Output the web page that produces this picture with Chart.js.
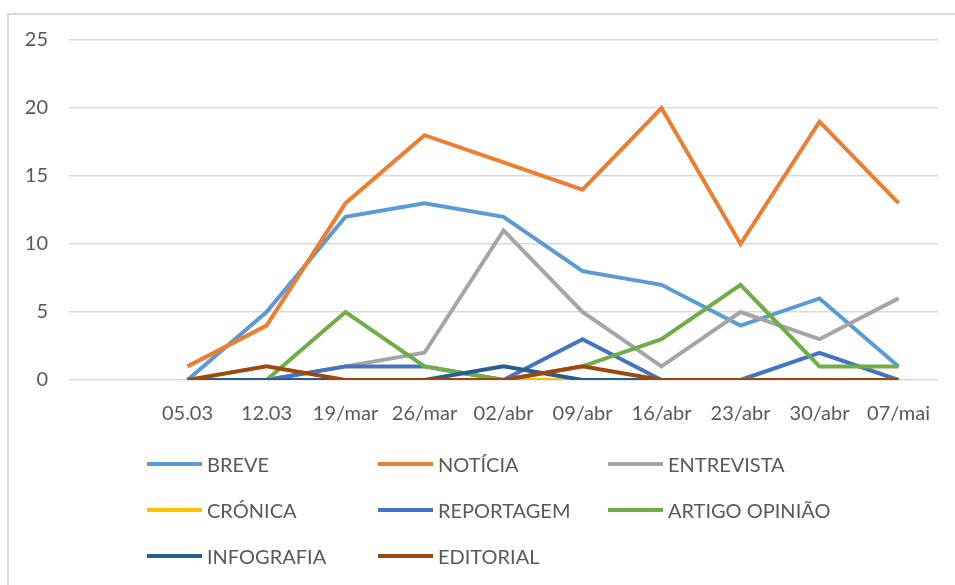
<!DOCTYPE html>
<html>
<head>
<meta charset="utf-8">
<script src="https://cdn.jsdelivr.net/npm/chart.js@4.4.1/dist/chart.umd.min.js"></script>
<style>
  html, body { margin: 0; padding: 0; background: #fff; }
  #wrap { position: relative; width: 955px; height: 585px; overflow: hidden; font-family: Lato, "Liberation Sans", sans-serif; }
  #frame { position: absolute; left: 7px; top: 13px; width: 1000px; height: 700px;
           border-left: 2px solid #d9d9d9; border-top: 2px solid #d9d9d9; }
  #chartBox { position: absolute; left: 0; top: 0; width: 955px; height: 585px; }
  #legend { position: absolute; left: 0; top: 0; width: 955px; height: 585px; pointer-events: none; }
  .item { position: absolute; display: flex; align-items: center; height: 24px; margin-top: -12px;
          color: #595959; font-size: 20px; white-space: nowrap; }
  .swatch { width: 55px; height: 4px; margin-right: 5px; }
</style>
</head>
<body>
<div id="wrap">
  <div id="frame"></div>
  <div id="chartBox"><canvas id="c"></canvas></div>
  <div id="legend"></div>
</div>
<script>
// Weekly counts per article type; the leading blank category keeps an empty slot before 05.03
const categories = ['', '05.03', '12.03', '19/mar', '26/mar', '02/abr', '09/abr', '16/abr', '23/abr', '30/abr', '07/mai'];
const yTicks = [0, 5, 10, 15, 20, 25];

const breve      = [null, 0, 5, 12, 13, 12, 8, 7, 4, 6, 1];
const noticia    = [null, 1, 4, 13, 18, 16, 14, 20, 10, 19, 13];
const entrevista = [null, 0, 0, 1, 2, 11, 5, 1, 5, 3, 6];
const cronica    = [null, 0, 0, 0, 0, 0, 0, 0, 0, 0, 0];
const reportagem = [null, 0, 0, 1, 1, 0, 3, 0, 0, 2, 0];
const artigo     = [null, null, 0, 5, 1, 0, 1, 3, 7, 1, 1];
const infografia = [null, 0, 0, 0, 0, 1, 0, 0, 0, 0, 0];
const editorial  = [null, 0, 1, 0, 0, 0, 1, 0, 0, 0, 0];

const seriesNames = ['BREVE', 'NOTÍCIA', 'ENTREVISTA', 'CRÓNICA', 'REPORTAGEM', 'ARTIGO OPINIÃO', 'INFOGRAFIA', 'EDITORIAL'];
const seriesValues = [breve, noticia, entrevista, cronica, reportagem, artigo, infografia, editorial];
const seriesColors = ['#5B9BD5', '#ED7D31', '#A5A5A5', '#FFC000', '#4472C4', '#70AD47', '#255E91', '#9E480E'];

const textColor = '#595959';
const fontFamily = 'Lato, "Liberation Sans", sans-serif';

const datasets = seriesNames.map((name, i) => ({
  label: name,
  data: seriesValues[i],
  borderColor: seriesColors[i],
  backgroundColor: seriesColors[i],
  borderWidth: 4,
  pointRadius: 0,
  pointHoverRadius: 0,
  tension: 0,
  fill: false,
  spanGaps: false,
  // later series are painted over earlier ones
  order: seriesNames.length - i
}));

const chart = new Chart(document.getElementById('c'), {
  type: 'line',
  data: { labels: categories, datasets },
  options: {
    responsive: true,
    maintainAspectRatio: false,
    animation: false,
    layout: { padding: { left: 0, top: 40, right: 17, bottom: 0 } },
    plugins: { legend: { display: false }, tooltip: { enabled: false } },
    scales: {
      x: {
        type: 'category',
        offset: true,
        grid: { display: false, drawTicks: false },
        border: { display: false },
        ticks: { color: textColor, font: { family: fontFamily, size: 20 }, padding: 22, maxRotation: 0, autoSkip: false },
        afterFit: s => { s.height = 205; }
      },
      y: {
        min: yTicks[0],
        max: yTicks[yTicks.length - 1],
        afterBuildTicks: s => { s.ticks = yTicks.map(v => ({ value: v })); },
        grid: { color: '#d9d9d9', lineWidth: 1.5, drawTicks: false },
        border: { display: false },
        ticks: { color: textColor, font: { family: fontFamily, size: 20 }, padding: 21 },
        afterFit: s => { s.width = 69; }
      }
    }
  }
});

// Legend laid out in three columns beneath the plot
const legendCols = [147, 378, 608];
const legendRows = [464, 510, 556];
const legendEl = document.getElementById('legend');
chart.data.datasets.forEach((ds, i) => {
  const item = document.createElement('div');
  item.className = 'item';
  item.style.left = legendCols[i % 3] + 'px';
  item.style.top = legendRows[Math.floor(i / 3)] + 'px';
  const sw = document.createElement('span');
  sw.className = 'swatch';
  sw.style.background = ds.borderColor;
  const tx = document.createElement('span');
  tx.textContent = ds.label;
  item.appendChild(sw);
  item.appendChild(tx);
  legendEl.appendChild(item);
});
</script>
</body>
</html>
